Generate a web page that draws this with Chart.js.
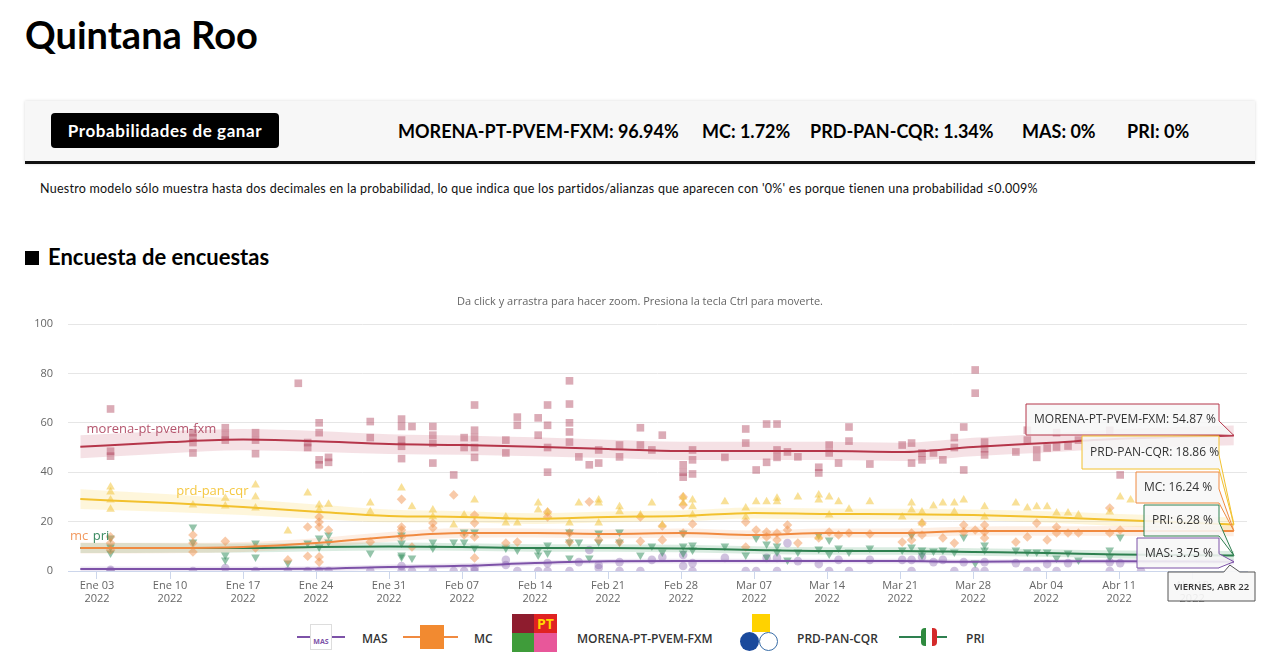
<!DOCTYPE html>
<html><head><meta charset="utf-8">
<script src="https://cdn.jsdelivr.net/npm/chart.js@4.4.1/dist/chart.umd.min.js"></script>
<style>
html,body{margin:0;padding:0}
body{width:1280px;height:652px;overflow:hidden;background:#fff;font-family:Lato,"Open Sans",sans-serif;position:relative;color:#000}
.abs{position:absolute;white-space:nowrap}
#title{left:25px;top:11px;font-size:38px;font-weight:700;letter-spacing:0px}
#probbox{left:25px;top:101px;width:1230px;height:60px;background:#f7f7f7;border-bottom:3px solid #111;box-shadow:0 0 3px rgba(0,0,0,0.15)}
#btn{left:51px;top:113px;width:228px;height:35px;background:#000;border-radius:4px;color:#fff;font-size:17px;font-weight:700;line-height:35px;text-align:center;letter-spacing:0.6px}
.stat{top:120px;font-size:18px;font-weight:700;line-height:22px}
#note{left:40px;top:181px;font-size:12.5px;color:#111;letter-spacing:0.25px}
#sq{left:25px;top:251px;width:14px;height:14px;background:#000}
#sub{left:48px;top:243px;font-size:22px;font-weight:700}
#chartwrap{position:absolute;left:0;top:280px;width:1280px;height:330px}
.lg{top:630px;font-family:"Open Sans",sans-serif;font-size:12px;font-weight:600;color:#333}
</style></head>
<body>
<div class="abs" id="title">Quintana Roo</div>
<div class="abs" id="probbox"></div>
<div class="abs" id="btn">Probabilidades de ganar</div>
<div class="abs stat" style="left:398px">MORENA-PT-PVEM-FXM: 96.94%</div>
<div class="abs stat" style="left:702px">MC: 1.72%</div>
<div class="abs stat" style="left:810px">PRD-PAN-CQR: 1.34%</div>
<div class="abs stat" style="left:1022px">MAS: 0%</div>
<div class="abs stat" style="left:1127px">PRI: 0%</div>
<div class="abs" id="note">Nuestro modelo sólo muestra hasta dos decimales en la probabilidad, lo que indica que los partidos/alianzas que aparecen con '0%' es porque tienen una probabilidad ≤0.009%</div>
<div class="abs" id="sq"></div>
<div class="abs" id="sub">Encuesta de encuestas</div>
<div id="chartwrap"><canvas id="c" width="1280" height="330"></canvas></div>

<!-- legend -->
<div class="abs" style="left:297px;top:636px;width:48px;height:2px;background:#7d52a8"></div>
<div class="abs" style="left:310px;top:624px;width:20px;height:24px;background:#fff;border:1px solid #ddd;font:bold 7px 'Open Sans';color:#7d52a8;text-align:center;line-height:34px">MAS</div>
<div class="abs lg" style="left:362px">MAS</div>
<div class="abs" style="left:403px;top:636px;width:55px;height:2px;background:#f08a40"></div>
<div class="abs" style="left:420px;top:625px;width:24px;height:24px;background:#f28a30"></div>
<div class="abs lg" style="left:474px">MC</div>
<div class="abs" style="left:512px;top:614px;width:22px;height:19px;background:#8e1c2e"></div>
<div class="abs" style="left:534px;top:614px;width:23px;height:19px;background:#e02222;color:#ffd400;font:bold 14px 'Open Sans';text-align:center;line-height:19px">PT</div>
<div class="abs" style="left:512px;top:633px;width:22px;height:19px;background:#3f9c3a"></div>
<div class="abs" style="left:534px;top:633px;width:23px;height:19px;background:#e8579a"></div>
<div class="abs lg" style="left:577px">MORENA-PT-PVEM-FXM</div>
<div class="abs" style="left:752px;top:614px;width:18px;height:18px;background:#ffd200"></div>
<div class="abs" style="left:740px;top:632px;width:19px;height:19px;border-radius:50%;background:#1b4a9c"></div>
<div class="abs" style="left:759px;top:632px;width:17px;height:17px;border-radius:50%;background:#fff;border:1px solid #3a6ea8"></div>
<div class="abs lg" style="left:797px">PRD-PAN-CQR</div>
<div class="abs" style="left:899px;top:636px;width:48px;height:2px;background:#2e8050"></div>
<div class="abs" style="left:921px;top:628px;width:16px;height:18px;border-radius:4px;background:linear-gradient(90deg,#2e8a3e 0 33%,#fff 33% 66%,#d42a2a 66%)"></div>
<div class="abs lg" style="left:966px">PRI</div>

<script>
// ---------- DATA ----------
// x values are days since 1 Jan 2022
const trendDays  = [0.4, 9, 16, 23, 30, 37, 44, 51, 58, 65, 72, 79, 86, 93, 100, 111];
const trendMorena = [50.3, 52.2, 53.2, 52.5, 51.4, 51, 50.3, 49.4, 48.6, 48.6, 48.6, 48.2, 50.2, 51.8, 53.5, 54.87];
const trendPrd    = [29.1, 27.5, 25.9, 24, 22.3, 21.9, 21.2, 21.9, 22.3, 23.5, 23.1, 23, 22.7, 21.9, 20.6, 18.86];
const trendMc     = [9.3, 9.3, 9.7, 11.3, 13.8, 15.4, 15.4, 15, 15.4, 14.6, 15.4, 15.4, 16.2, 16.2, 16.2, 16.24];
const trendPri    = [9.3, 9.3, 9.3, 9.7, 9.9, 9.7, 9.3, 9.3, 9.1, 8.5, 8.1, 8.1, 7.7, 7.3, 6.7, 6.28];
const trendMas    = [0.8, 0.8, 0.8, 0.9, 1.6, 2.1, 3.2, 3.9, 4, 4, 4, 4, 3.7, 3.9, 3.9, 3.75];
const bandMorena = [4.7, 4.5, 4.3, 4.2, 4, 3.9, 3.8, 3.7, 3.7, 3.7, 3.7, 3.7, 3.7, 3.8, 3.9, 4];
const bandPrd    = [4, 3.6, 3.2, 2.9, 2.6, 2.3, 2.2, 2.2, 2.2, 2.2, 2.2, 2.2, 2.2, 2.3, 2.5, 2.8];
const bandMc     = [2.2, 2.1, 2, 2, 2, 1.9, 1.8, 1.8, 1.8, 1.8, 1.8, 1.8, 1.8, 1.9, 2, 2.2];
const bandPri    = [2, 1.9, 1.8, 1.7, 1.6, 1.5, 1.5, 1.5, 1.5, 1.5, 1.5, 1.5, 1.5, 1.5, 1.6, 1.8];
const bandMas    = [1, 1, 1, 1, 1, 1, 1, 1, 1, 1, 1, 1, 1, 1, 1, 1.1];

const pollMorena = [[3.3,65.6],[3.3,48.5],[3.3,46.5],[11.2,56],[11.2,54],[11.2,52],[11.2,47.8],[14.3,58],[14.3,55],[14.3,53],
[17.2,56],[17.2,53],[17.2,47.5],[21.3,76],[22.2,52],[22.2,50],[23.3,60],[23.3,56],[23.3,45],[23.3,43],[24.2,46],[24.2,44],
[28.2,60.5],[28.2,54],[31.2,61.5],[31.2,58.5],[31.2,53],[31.2,50.5],[31.2,45.5],[32.2,58.5],[34.2,58.5],[34.2,55],[34.2,51.7],[34.2,43.7],
[36.2,38.9],[37.2,54],[37.2,50],[38.2,67.2],[38.2,57],[38.2,54],[38.2,50],[38.2,46],[41.2,53],[41.2,47.8],[42.3,62.3],[42.3,59],
[44.3,62],[44.3,55],[45.2,67.2],[45.2,59],[45.2,50],[45.2,40],[47.3,77],[47.3,67.6],[47.3,60],[47.3,56.3],[47.3,52.2],
[48.2,46.2],[49.2,43],[50.1,49],[50.1,43.7],[52.1,51],[52.1,46.2],[54.1,58],[54.1,51],[55.2,49],[56.2,55],[58.2,43],[58.2,40],[58.2,38],
[59.1,49],[59.1,45],[59.1,39.3],[62.2,46],[64.2,57.5],[64.2,51.8],[65.2,40.9],[66.2,59.5],[66.2,44],[67.2,59.5],[67.2,49],[67.2,46],
[68.2,48.2],[69.2,46.2],[71.2,42],[71.2,39.7],[72.2,51],[72.2,47.8],[73.1,43.7],[74.1,58.3],[74.1,52.6],[76.1,43.3],[79.2,51],
[80.1,51.8],[80.1,43.7],[81.1,47.8],[81.1,45],[82.2,47.8],[83.1,45],[84.2,54],[84.2,50],[85.1,58.3],[85.1,40.9],[86.2,81.4],[86.2,72],
[87.1,52.2],[87.1,49.5],[87.1,47],[90.1,48.2],[91.2,57],[91.2,53],[92.1,49],[92.1,46],[93.1,49.8],[94,56],[94,50.2],[95.1,50.6],[96.1,53],
[99.1,57],[100.1,38.9]];
const pollPrd = [[3.3,34],[3.3,32],[3.3,28.7],[3.3,25],[11.2,26.7],[14.3,29.5],[14.3,26.3],[17.2,34.8],[17.2,30],[17.2,25.5],[20.3,16.2],
[22.2,31.6],[23.3,26.7],[23.3,24.7],[24.2,27],[28.2,27.5],[28.2,24],[31.2,33.6],[32.2,26],[34.2,24.7],[34.2,22],[36.2,18.6],[37.2,22.7],
[38.2,28.7],[41.2,21.9],[41.2,19.4],[42.3,19.4],[44.3,27.5],[44.3,24.7],[45.2,23.9],[47.3,19.4],[48.2,27.5],[50.1,28.7],[50.1,27.5],[50.1,19.4],
[52.1,26],[52.1,24],[54.1,22.7],[55.2,27.5],[56.2,18.6],[58.2,30],[58.2,27.5],[59.1,28.7],[59.1,26],[59.1,22.7],[62.2,28],[64.2,25.5],[64.2,21.9],
[65.2,28],[66.2,28],[67.2,29.5],[67.2,28],[69.2,30],[71.2,30.8],[71.2,28.7],[71.2,13.8],[72.2,30],[72.2,22.7],[73.1,28],[74.1,25],[76.1,28],
[79.2,21.9],[80.1,27.5],[80.1,24.7],[81.1,23.9],[81.1,19.4],[82.2,26.3],[83.1,27.5],[84.2,27.5],[84.2,23.9],[85.1,28.7],[87.1,26],[87.1,21.9],
[90.1,27.5],[91.2,25.5],[92.1,26],[93.1,26],[94,23.5],[95.1,23.5],[96.1,22.7],[99.1,23.9],[100.1,30],[101.1,28.7]];
const pollMc = [[3.3,13.8],[3.3,11.3],[3.3,8.5],[11.2,14.6],[11.2,11.3],[11.2,7.7],[14.3,12],[17.2,9.3],[20.3,4.5],[22.2,17.8],[22.2,6],
[23.3,21.9],[23.3,19.8],[23.3,17.8],[23.3,5.7],[23.3,3.6],[24.2,16.6],[28.2,11.7],[31.2,29],[31.2,17.8],[31.2,16.6],[31.2,13.8],[32.2,9.7],
[34.2,19.4],[34.2,17.4],[36.2,30.8],[37.2,14.6],[38.2,22.7],[38.2,19.4],[38.2,13.8],[38.2,5.3],[41.2,11.3],[42.3,11.7],[45.2,23.9],[45.2,21.9],
[47.3,15.4],[47.3,11.7],[49.2,28],[50.1,12.6],[52.1,11.7],[54.1,21.9],[54.1,12],[56.2,18.2],[56.2,12.6],[58.2,30],[58.2,26.7],[58.2,15.4],
[59.1,19],[64.2,19.8],[64.2,9.7],[65.2,16.6],[66.2,15.8],[66.2,13.8],[67.2,15.4],[67.2,12.6],[68.2,18.6],[68.2,16.6],[69.2,11.3],[71.2,13.4],
[72.2,15.8],[73.1,14.6],[74.1,15.4],[76.1,15],[79.2,11.7],[80.1,15.4],[80.1,12.6],[81.1,19.4],[81.1,14.6],[83.1,13.4],[84.2,11.3],[85.1,18.6],
[85.1,15.8],[86.2,16.6],[87.1,18.6],[87.1,15.8],[87.1,13.4],[90.1,11.7],[91.2,13.8],[92.1,19.4],[93.1,12.6],[94,17.8],[94,15.4],[95.1,15.4],
[96.1,15.4],[99.1,25.5],[99.1,15.4],[100.1,16.6]];
const pollPri = [[3.3,13.4],[3.3,9.7],[3.3,7.3],[11.2,17.8],[11.2,11.7],[14.3,6.5],[14.3,4.5],[17.2,11.3],[17.2,5.7],[20.3,3.2],[22.2,11.3],
[23.3,13.4],[23.3,9.7],[24.2,14.6],[24.2,11.7],[28.2,7.3],[31.2,14.6],[31.2,11.3],[31.2,5.7],[31.2,6.5],[32.2,5.3],[34.2,11.7],[34.2,9.3],
[36.2,11.7],[37.2,15.8],[37.2,11.7],[38.2,15.8],[38.2,9.3],[41.2,9.3],[42.3,8.5],[44.3,8.5],[44.3,6.5],[45.2,10.5],[45.2,7.3],[47.3,15.8],
[47.3,11.7],[47.3,5.3],[48.2,11.7],[49.2,5.3],[50.1,15.4],[50.1,11.7],[52.1,15.8],[52.1,11.7],[54.1,6.5],[55.2,10.1],[56.2,7.7],[58.2,15.4],
[58.2,10.1],[58.2,7.3],[59.1,10.5],[59.1,8.5],[62.2,10.1],[64.2,6.5],[65.2,13.4],[66.2,10.9],[66.2,5.7],[67.2,10.1],[67.2,7.7],[68.2,4.5],
[69.2,7.7],[71.2,14.6],[71.2,8.9],[72.2,12.6],[72.2,6.9],[73.1,9.3],[74.1,7.7],[76.1,9.3],[79.2,8.5],[80.1,14.6],[80.1,9.7],[81.1,8.5],
[81.1,6.5],[82.2,8.1],[83.1,8.5],[84.2,7.7],[85.1,13.8],[86.2,3.2],[87.1,10.5],[87.1,8.5],[90.1,8.5],[91.2,7.7],[92.1,7.7],[93.1,7.7],
[94,5.3],[95.1,7.3],[96.1,4.5],[99.1,8.5],[99.1,5.7],[100.1,13.8]];
const pollMas = [[3.3,0.5],[3.3,0],[11.2,0],[14.3,1.2],[17.2,0],[20.3,0],[22.2,0],[23.3,0],[24.2,0],[28.2,0],[31.2,2],[31.2,0],[32.2,0],
[34.2,0],[36.2,0],[37.2,0],[38.2,1.2],[38.2,0],[41.2,4.5],[41.2,2.4],[42.3,0],[44.3,0],[45.2,3.2],[45.2,0],[47.3,0],[48.2,3.6],[49.2,8.5],
[50.1,2.4],[50.1,1.2],[52.1,3.6],[52.1,0],[54.1,0],[55.2,4.5],[56.2,5.7],[58.2,6.5],[58.2,2],[59.1,3.2],[59.1,0],[62.2,5.3],[64.2,0],[65.2,0],
[66.2,5.3],[67.2,5.3],[67.2,0],[68.2,11.3],[69.2,4],[71.2,2.8],[72.2,0],[73.1,4.5],[74.1,0],[76.1,4.5],[79.2,4.5],[80.1,4.5],[80.1,0],
[81.1,5.7],[82.2,3.6],[83.1,4.5],[84.2,0],[85.1,3.6],[86.2,0],[87.1,3.6],[87.1,0],[90.1,3.2],[91.2,0],[92.1,0],[93.1,2.8],[94,0],[95.1,3.2],
[99.1,3.6],[99.1,0],[100.1,3.2],[102.1,0]];

const tickDays   = [2, 9, 16, 23, 30, 37, 44, 51, 58, 65, 72, 79, 86, 93, 100, 107];
const tickLabels = ['Ene 03','Ene 10','Ene 17','Ene 24','Ene 31','Feb 07','Feb 14','Feb 21','Feb 28','Mar 07','Mar 14','Mar 21','Mar 28','Abr 04','Abr 11','Abr 18'];
const tickYear = '2022';
const yTicks = [0, 20, 40, 60, 80, 100];
const seriesNames = ['MORENA-PT-PVEM-FXM', 'PRD-PAN-CQR', 'MC', 'PRI', 'MAS'];
const hoverDateLabel = 'VIERNES, ABR 22';

// ---------- STYLE ----------
const parties = [
  {name: seriesNames[0], trend: trendMorena, band: bandMorena, polls: pollMorena, line:'#b5364a', fill:'rgba(190,70,95,0.16)', pt:'rgba(176,69,94,0.45)', style:'rect', r:5.4, rot:0},
  {name: seriesNames[1], trend: trendPrd, band: bandPrd, polls: pollPrd, line:'#f2c12e', fill:'rgba(250,215,90,0.22)', pt:'rgba(242,194,48,0.5)', style:'triangle', r:5, rot:0},
  {name: seriesNames[2], trend: trendMc, band: bandMc, polls: pollMc, line:'#f08a40', fill:'rgba(245,150,80,0.16)', pt:'rgba(240,138,64,0.45)', style:'rectRot', r:4.8, rot:0},
  {name: seriesNames[3], trend: trendPri, band: bandPri, polls: pollPri, line:'#2e8050', fill:'rgba(50,150,90,0.18)', pt:'rgba(42,138,85,0.5)', style:'triangle', r:5, rot:180},
  {name: seriesNames[4], trend: trendMas, band: bandMas, polls: pollMas, line:'#7d52a8', fill:'rgba(140,100,180,0.16)', pt:'rgba(138,102,176,0.4)', style:'circle', r:4.3, rot:0},
];

const datasets = [];
parties.forEach(p => {
  datasets.push({data: p.trend.map((v,i)=>({x:trendDays[i], y:v + p.band[i]})), borderWidth:0, pointRadius:0, fill:false, cubicInterpolationMode:'monotone', order:3});
  datasets.push({data: p.trend.map((v,i)=>({x:trendDays[i], y:Math.max(0, v - p.band[i])})), borderWidth:0, pointRadius:0, fill:'-1', backgroundColor:p.fill, cubicInterpolationMode:'monotone', order:3});
});
parties.forEach(p => {
  datasets.push({data: p.polls.map(a=>({x:a[0], y:a[1]})), showLine:false, pointStyle:p.style, pointRadius:p.r, pointRotation:p.rot, pointBackgroundColor:p.pt, pointBorderWidth:0, order:2});
});
parties.forEach(p => {
  datasets.push({data: p.trend.map((v,i)=>({x:trendDays[i], y:v})), borderColor:p.line, borderWidth:2, pointRadius:0, fill:false, cubicInterpolationMode:'monotone', order:1});
});

const CANVAS_TOP = 280;
const tipLayout = [
  {x0:1026, x1:1219, y0:404, y1:435},
  {x0:1082, x1:1219, y0:436, y1:469},
  {x0:1136, x1:1219, y0:472, y1:503},
  {x0:1144, x1:1219, y0:505, y1:536},
  {x0:1137, x1:1219, y0:538, y1:568},
];
const labelLayout = [
  {text:'morena-pt-pvem-fxm', x:1.0, y:57.5, color:'#b5566e'},
  {text:'prd-pan-cqr', x:9.6, y:32.4, color:'#f5c842'},
  {text:'mc', x:-0.6, y:14.2, color:'#f29a60'},
  {text:'pri', x:1.6, y:14.2, color:'#3a8a60'},
];

const overlay = {
  id:'overlay',
  beforeDraw(chart){
    const ctx = chart.ctx;
    ctx.save();
    ctx.font = '11px "Open Sans", sans-serif';
    ctx.fillStyle = '#666';
    ctx.textAlign = 'center';
    ctx.textBaseline = 'middle';
    ctx.fillText('Da click y arrastra para hacer zoom. Presiona la tecla Ctrl para moverte.', 640, 22);
    ctx.restore();
  },
  afterDraw(chart){
    const {ctx, scales:{x, y}} = chart;
    ctx.save();
    ctx.font = '13px "Open Sans", sans-serif';
    ctx.textAlign = 'left';
    ctx.textBaseline = 'middle';
    labelLayout.forEach(l => {
      ctx.fillStyle = l.color;
      ctx.fillText(l.text, x.getPixelForValue(l.x), y.getPixelForValue(l.y));
    });
    const lastX = trendDays[trendDays.length-1];
    const px = x.getPixelForValue(lastX);
    parties.forEach((p, i) => {
      const val = p.trend[p.trend.length-1];
      const py = y.getPixelForValue(val);
      const L = tipLayout[i];
      const x0 = L.x0, x1 = L.x1, y0 = L.y0 - CANVAS_TOP, y1 = L.y1 - CANVAS_TOP;
      const bt = Math.min(Math.max(py - 8, y0), y1 - 14);
      const bb = Math.min(bt + 14, y1);
      ctx.beginPath();
      ctx.moveTo(x0, y0); ctx.lineTo(x1, y0); ctx.lineTo(x1, bt); ctx.lineTo(px, py);
      ctx.lineTo(x1, bb); ctx.lineTo(x1, y1); ctx.lineTo(x0, y1); ctx.closePath();
      ctx.fillStyle = 'rgba(247,247,247,0.88)';
      ctx.fill();
      ctx.lineWidth = 1;
      ctx.strokeStyle = p.line;
      ctx.stroke();
      ctx.fillStyle = '#333';
      ctx.font = '12px "Open Sans", sans-serif';
      ctx.fillText(p.name + ': ' + val.toFixed(2) + ' %', x0 + 8, (y0 + y1) / 2 + 0.5);
    });
    const dx0 = 1168, dx1 = 1255, dy0 = 572 - CANVAS_TOP, dy1 = 601 - CANVAS_TOP;
    const ay = y.getPixelForValue(0);
    ctx.beginPath();
    ctx.moveTo(dx0, dy0); ctx.lineTo(px - 10, dy0); ctx.lineTo(px - 4, ay - 6); ctx.lineTo(px + 6, dy0);
    ctx.lineTo(dx1, dy0); ctx.lineTo(dx1, dy1); ctx.lineTo(dx0, dy1); ctx.closePath();
    ctx.fillStyle = 'rgba(247,247,247,0.92)';
    ctx.fill();
    ctx.strokeStyle = '#555';
    ctx.stroke();
    ctx.fillStyle = '#333';
    ctx.font = '600 9.5px "Open Sans", sans-serif';
    ctx.textAlign = 'center';
    ctx.fillText(hoverDateLabel, (dx0 + dx1) / 2, (dy0 + dy1) / 2 + 0.5);
    ctx.restore();
  }
};

new Chart(document.getElementById('c'), {
  type: 'line',
  data: { datasets },
  plugins: [overlay],
  options: {
    responsive: false,
    animation: false,
    events: [],
    layout: { padding: { top: 44, left: 0, right: 33, bottom: 0 } },
    plugins: { legend: { display: false }, tooltip: { enabled: false }, title: { display: false } },
    scales: {
      x: {
        type: 'linear', min: -0.78, max: 112.26,
        afterFit: s => { s.height = 39; },
        afterBuildTicks: s => { s.ticks = tickDays.map(v => ({ value: v })); },
        grid: { drawOnChartArea: false, drawTicks: true, tickLength: 8, color: '#ccd6eb' },
        border: { display: true, color: '#ccd6eb' },
        ticks: {
          autoSkip: false, maxRotation: 0, padding: 0,
          color: '#666', font: { family: '"Open Sans", sans-serif', size: 11 },
          callback: (v, i) => [tickLabels[i], tickYear]
        }
      },
      y: {
        min: 0, max: 100,
        afterFit: s => { s.width = 68; },
        afterBuildTicks: s => { s.ticks = yTicks.map(v => ({ value: v })); },
        grid: { color: '#e6e6e6', drawTicks: false },
        border: { display: false },
        ticks: { padding: 15, color: '#666', font: { family: '"Open Sans", sans-serif', size: 11 } }
      }
    }
  }
});
</script>
</body></html>
